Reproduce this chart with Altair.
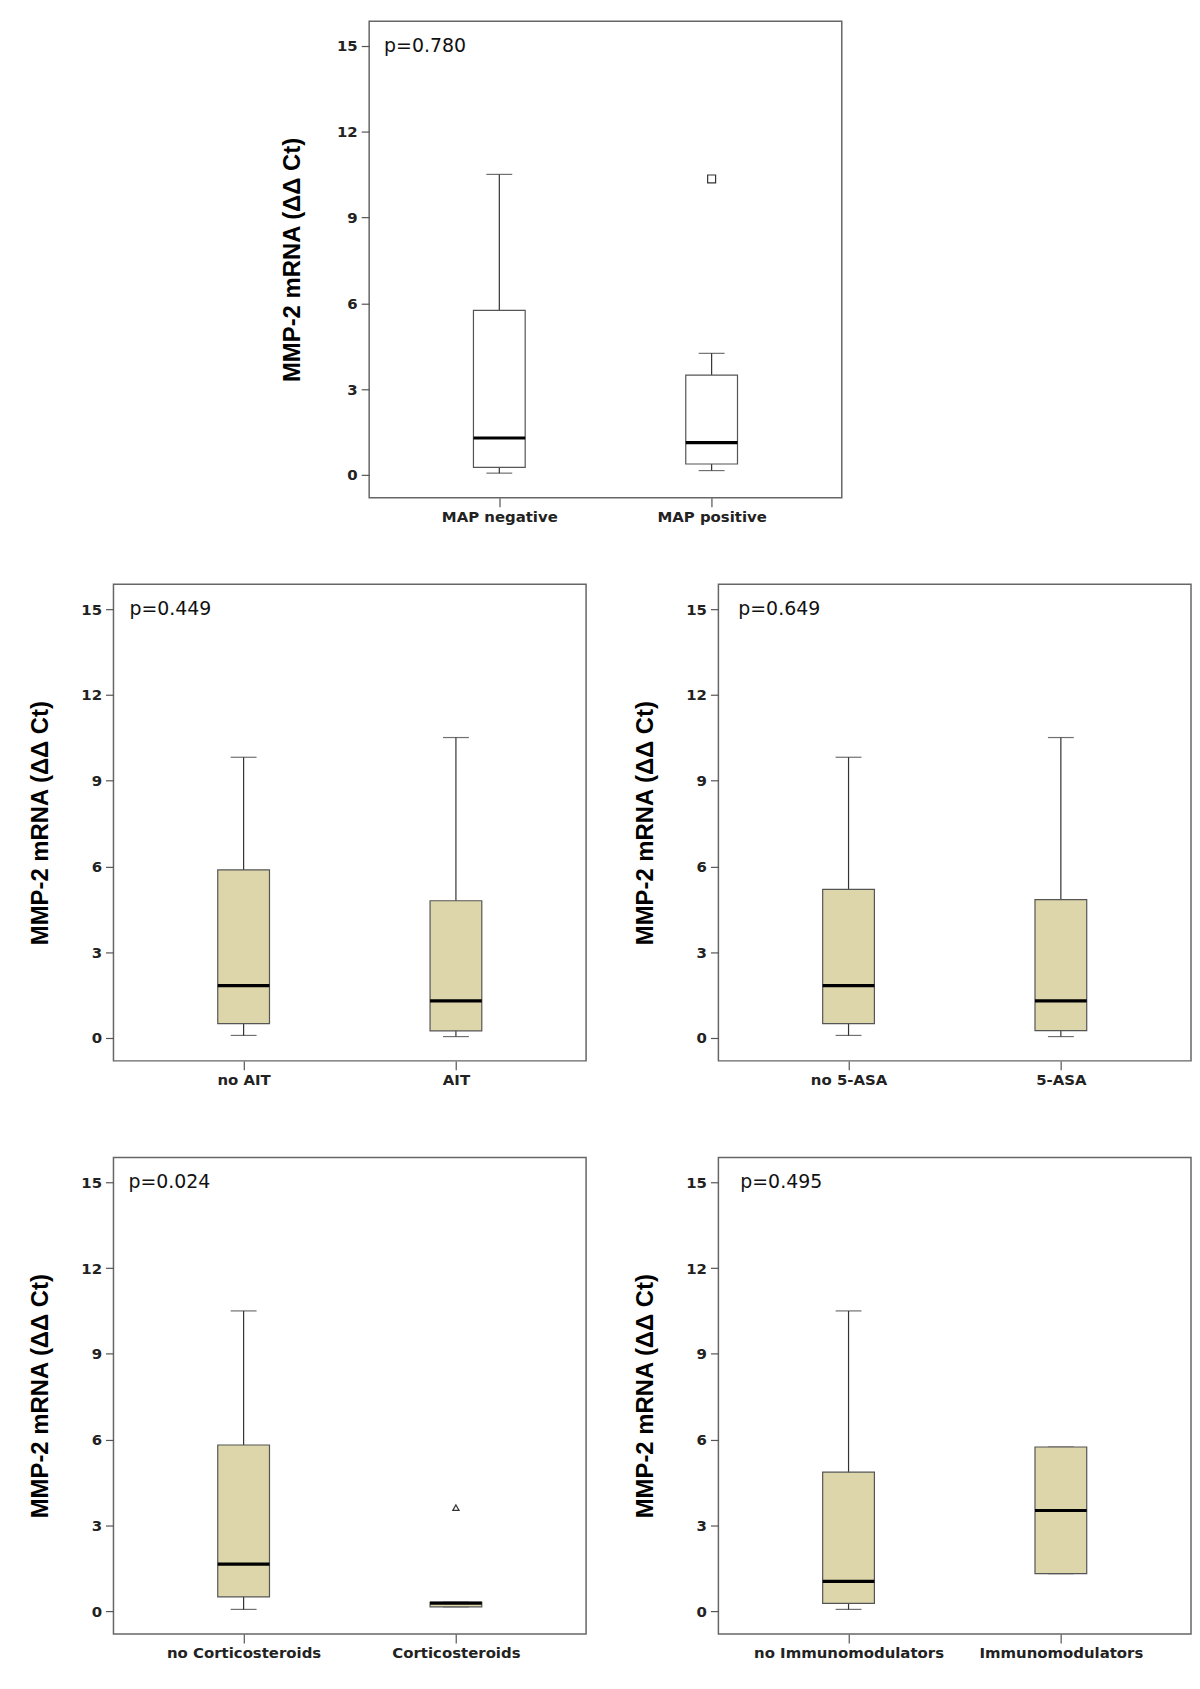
import altair as alt
import pandas as pd

Y_TITLE = "MMP-2 mRNA (ΔΔ Ct)"
Y_TICKS = [0, 3, 6, 9, 12, 15]
Y_DOMAIN = [-0.8, 15.87]

# ---- Panel 1: MAP status ----
map_cats = ["MAP negative", "MAP positive"]
map_p = "p=0.780"
map_lo = [0.06, 0.15]
map_q1 = [0.26, 0.38]
map_med = [1.29, 1.13]
map_q3 = [5.75, 3.49]
map_hi = [10.51, 4.25]
map_out_cat = ["MAP positive"]
map_out_val = [10.35]

# ---- Panel 2: AIT ----
ait_cats = ["no AIT", "AIT"]
ait_p = "p=0.449"
ait_lo = [0.09, 0.05]
ait_q1 = [0.50, 0.25]
ait_med = [1.83, 1.30]
ait_q3 = [5.88, 4.80]
ait_hi = [9.82, 10.51]

# ---- Panel 3: 5-ASA ----
asa_cats = ["no 5-ASA", "5-ASA"]
asa_p = "p=0.649"
asa_lo = [0.09, 0.05]
asa_q1 = [0.50, 0.26]
asa_med = [1.83, 1.30]
asa_q3 = [5.20, 4.84]
asa_hi = [9.82, 10.51]

# ---- Panel 4: Corticosteroids ----
cort_cats = ["no Corticosteroids", "Corticosteroids"]
cort_p = "p=0.024"
cort_lo = [0.06, 0.15]
cort_q1 = [0.50, 0.15]
cort_med = [1.64, 0.28]
cort_q3 = [5.81, 0.31]
cort_hi = [10.50, 0.31]
cort_out_cat = ["Corticosteroids"]
cort_out_val = [3.62]

# ---- Panel 5: Immunomodulators ----
imm_cats = ["no Immunomodulators", "Immunomodulators"]
imm_p = "p=0.495"
imm_lo = [0.06, 1.31]
imm_q1 = [0.27, 1.31]
imm_med = [1.04, 3.52]
imm_q3 = [4.86, 5.74]
imm_hi = [10.50, 5.74]

TAN = "#DCD6AA"
W, H = 475, 479


def panel(cats, p, lo, q1, med, q3, hi, fill, p_dx,
          out_cat=None, out_val=None, out_shape="square", out_size=60,
          title_pad=28):
    df = pd.DataFrame({"cat": cats, "lo": lo, "q1": q1, "med": med,
                       "q3": q3, "hi": hi})
    base = alt.Chart(df)
    xenc = alt.X("cat:N", sort=cats, title=None,
                 scale=alt.Scale(type="point", padding=0.613, domain=cats),
                 axis=alt.Axis(domain=False, grid=False, tickSize=9,
                               tickColor="#555", tickWidth=1.2,
                               labelPadding=3, labelAngle=0, labelLimit=0,
                               labelFont="DejaVu Sans", labelFontWeight="bold",
                               labelFontSize=15, labelColor="#222"))
    yscale = alt.Scale(domain=Y_DOMAIN, nice=False, zero=False)
    yaxis = alt.Axis(values=Y_TICKS, domain=False, grid=False, tickSize=8,
                     tickColor="#555", tickWidth=1.2, labelPadding=4,
                     labelFont="DejaVu Sans", labelFontWeight="bold",
                     labelFontSize=15, labelColor="#222",
                     title=Y_TITLE, titleFont="Liberation Sans",
                     titleFontWeight="bold", titleFontSize=24,
                     titleColor="#000", titlePadding=title_pad)
    whisk = base.mark_rule(color="#333", strokeWidth=1.2).encode(
        x=xenc, y=alt.Y("lo:Q", scale=yscale, axis=yaxis), y2="hi:Q")
    cap_lo = base.mark_tick(color="#333", size=26, thickness=1.2).encode(
        x=xenc, y="lo:Q")
    cap_hi = base.mark_tick(color="#333", size=26, thickness=1.2).encode(
        x=xenc, y="hi:Q")
    box = base.mark_bar(size=52, fill=fill, stroke="#555", strokeWidth=1.2).encode(
        x=xenc, y="q1:Q", y2="q3:Q")
    median = base.mark_tick(color="#000", size=52, thickness=3.2, opacity=1).encode(
        x=xenc, y="med:Q")
    ptext = alt.Chart(pd.DataFrame({"t": [p]})).mark_text(
        align="left", baseline="middle", font="DejaVu Sans", fontSize=19,
        color="#111").encode(x=alt.value(p_dx), y=alt.datum(15), text="t:N")
    layers = [whisk, cap_lo, cap_hi, box, median]
    if out_cat:
        odf = pd.DataFrame({"cat": out_cat, "v": out_val})
        outl = alt.Chart(odf).mark_point(shape=out_shape, filled=False,
                                         color="#333", strokeWidth=1.2,
                                         size=out_size, opacity=1).encode(
            x=xenc, y="v:Q")
        layers.append(outl)
    layers.append(ptext)
    return alt.layer(*layers).properties(width=W, height=H)


def spacer(w):
    return alt.Chart(pd.DataFrame({"a": [0]})).mark_point(opacity=0).encode(
        x=alt.value(0), y=alt.value(0)
    ).properties(width=w, height=1, view=alt.ViewBackground(stroke="transparent"))


p_map = panel(map_cats, map_p, map_lo, map_q1, map_med, map_q3, map_hi,
              "white", 15, map_out_cat, map_out_val, "square", 64, title_pad=32)
p_ait = panel(ait_cats, ait_p, ait_lo, ait_q1, ait_med, ait_q3, ait_hi, TAN, 16)
p_asa = panel(asa_cats, asa_p, asa_lo, asa_q1, asa_med, asa_q3, asa_hi, TAN, 20)
p_cort = panel(cort_cats, cort_p, cort_lo, cort_q1, cort_med, cort_q3, cort_hi,
               TAN, 15, cort_out_cat, cort_out_val, "triangle-up", 40)
p_imm = panel(imm_cats, imm_p, imm_lo, imm_q1, imm_med, imm_q3, imm_hi, TAN, 22)

top_row = alt.hconcat(spacer(156), p_map, spacing=10)
mid_row = alt.hconcat(p_ait, p_asa, spacing=46)
bot_row = alt.hconcat(p_cort, p_imm, spacing=46)

chart = alt.vconcat(
    alt.vconcat(top_row, mid_row, spacing=58),
    bot_row, spacing=68
).properties(
    padding={"left": 20, "top": 5, "right": 0, "bottom": 5},
    background="white"
).configure_view(stroke="#666", strokeWidth=1.5)

chart.save("out.html", embed_options={"renderer": "svg", "actions": False})
